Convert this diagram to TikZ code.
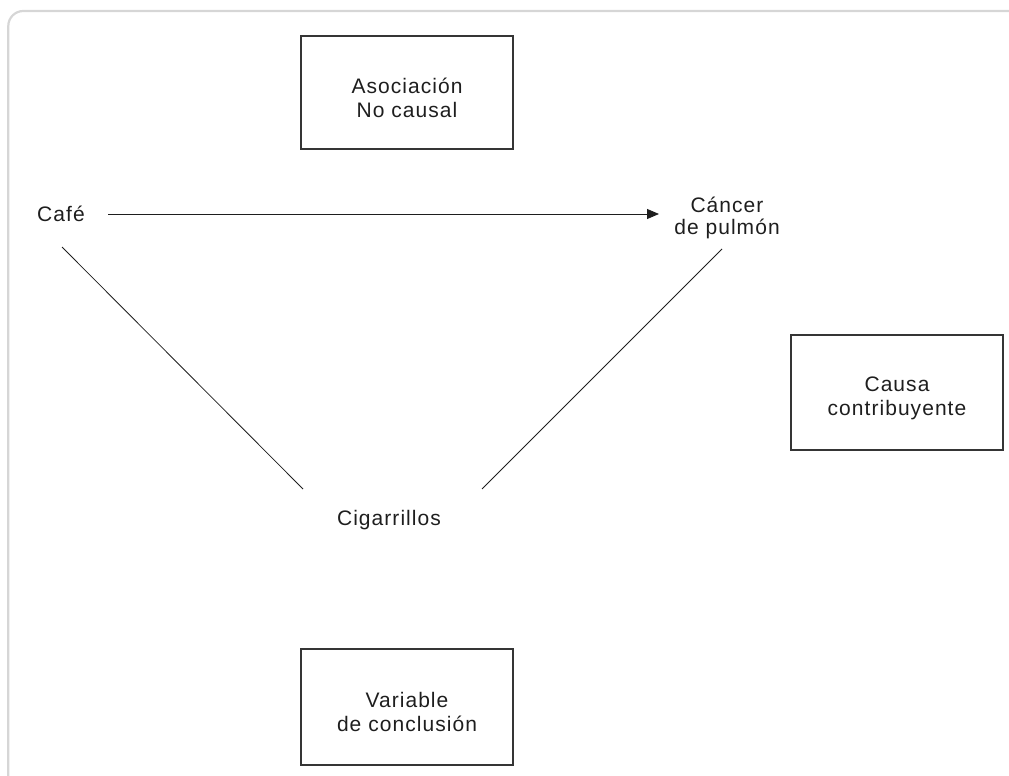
\documentclass[tikz,border=0pt]{standalone}
\usepackage{fontspec}
\setmainfont{Liberation Sans}[LetterSpace=5]
\usetikzlibrary{arrows.meta,calc}
\definecolor{ink}{HTML}{1E1E1E}
\definecolor{frame}{HTML}{D6D6D6}
\newcommand{\boxtext}[2]{\parbox{200pt}{\centering\vspace*{#1}#2}}
\begin{document}
\begin{tikzpicture}[x=1pt,y=-1pt,
  txt/.style={text=ink,align=center,font=\fontsize{21}{24}\selectfont,inner sep=0pt},
  boxnode/.style={txt,draw=ink!90,line width=1.1pt,minimum width=212pt},
  conn/.style={draw=ink,line width=0.8pt},
  arr/.style={conn,-{Triangle[length=12pt,width=10pt]}}]
\useasboundingbox (0,0) rectangle (1009,776);
\clip (0,0) rectangle (1009,776);
\draw[frame,line width=2.2pt,rounded corners=15pt] (8.3,11) rectangle (1040,800);
% boxes
\node[boxnode,minimum height=113pt] (asoc) at (407,92.5) {\boxtext{11.7pt}{Asociación\\No causal}};
\node[boxnode,minimum height=115pt] (causa) at (897,392.5) {\boxtext{12pt}{Causa\\contribuyente}};
\node[boxnode,minimum height=116pt] (var) at (407,707) {\boxtext{9pt}{Variable\\de conclusión}};
% labels
\node[txt,anchor=base] (cafe) at (61,221.5) {Café};
\node[txt,font=\fontsize{21}{22}\selectfont] (cancer) at (727,217.5) {Cáncer\\de pulmón};
\node[txt,anchor=base] (cig) at (389,525) {Cigarrillos};
% connectors
\coordinate (a1) at (108,214);
\coordinate (a2) at (659,214);
\draw[arr] (a1) -- (a2);
\coordinate (l1) at (62,247);
\coordinate (l2) at (303,489);
\coordinate (r1) at (722,249);
\coordinate (r2) at (482,489);
\draw[conn] (l1) -- (l2);
\draw[conn] (r1) -- (r2);
\end{tikzpicture}
\end{document}
